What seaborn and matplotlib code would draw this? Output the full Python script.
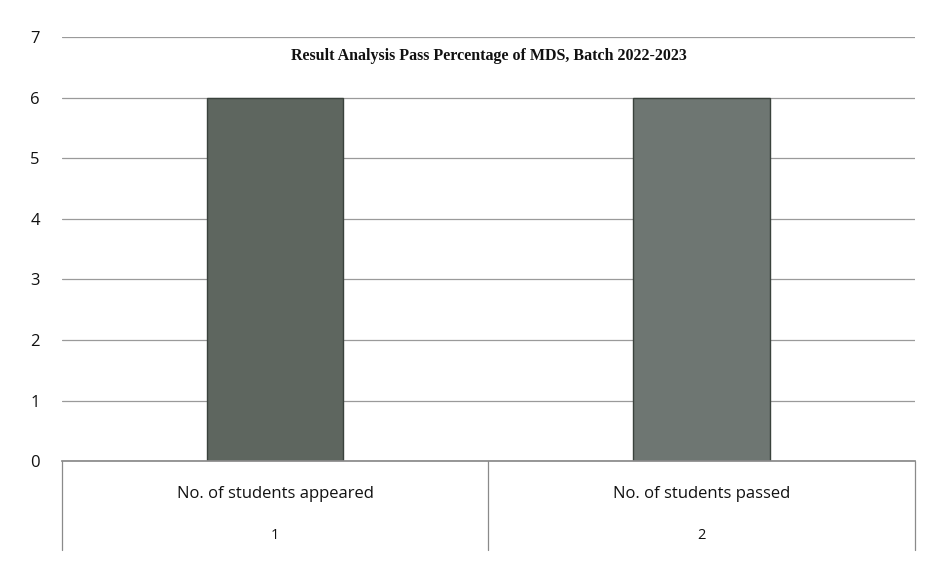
import numpy as np
import pandas as pd
import seaborn as sns
import matplotlib.pyplot as plt

# data
categories = ['No. of students appeared', 'No. of students passed']
group_numbers = ['1', '2']
counts = [6, 6]
bar_colors = ['#5c685e', '#6c7872']

sns.set_theme(style='white')
plt.rcParams['font.family'] = ['Open Sans', 'DejaVu Sans']

df = pd.DataFrame({'category': categories, 'count': counts})

fig = plt.figure(figsize=(9.3, 5.61), dpi=100)
ax = fig.add_axes([0.0667, 0.178, 0.917, 0.756])

sns.barplot(data=df, x='category', y='count', hue='category', palette=bar_colors,
            width=0.32, edgecolor='#3a423c', linewidth=1.0, legend=False, ax=ax)

# styling
ax.set_xlim(-0.5, 1.5)
ax.set_ylim(0, 7)
ax.set_yticks(range(8))
ax.yaxis.grid(True, color='#9a9a9a', linewidth=0.9)
ax.set_axisbelow(True)
for side in ['top', 'right', 'left']:
    ax.spines[side].set_visible(False)
ax.spines['bottom'].set_color('#8a8a8a')
ax.tick_params(axis='y', labelsize=12, pad=16, length=0, labelcolor='#111111')
ax.set_xticks([])
ax.set_xlabel('')
ax.set_ylabel('')

# category table below the axis
tr = ax.get_xaxis_transform()
for xl in [-0.5, 0.5, 1.5]:
    ax.plot([xl, xl], [0, -0.21], transform=tr, color='#8a8a8a',
            linewidth=0.9, clip_on=False)
for i, (cat, num) in enumerate(zip(categories, group_numbers)):
    ax.text(i, -0.078, cat, transform=tr, ha='center', va='center',
            fontsize=12, color='#111111')
    ax.text(i, -0.175, num, transform=tr, ha='center', va='center',
            fontsize=10.5, color='#111111')

ax.text(0.5, 0.955, 'Result Analysis Pass Percentage of MDS, Batch 2022-2023',
        transform=ax.transAxes, ha='center', va='center', fontsize=11.5,
        fontweight='bold', family='Liberation Serif', color='#111111')

fig.savefig('out.png', dpi=100)
